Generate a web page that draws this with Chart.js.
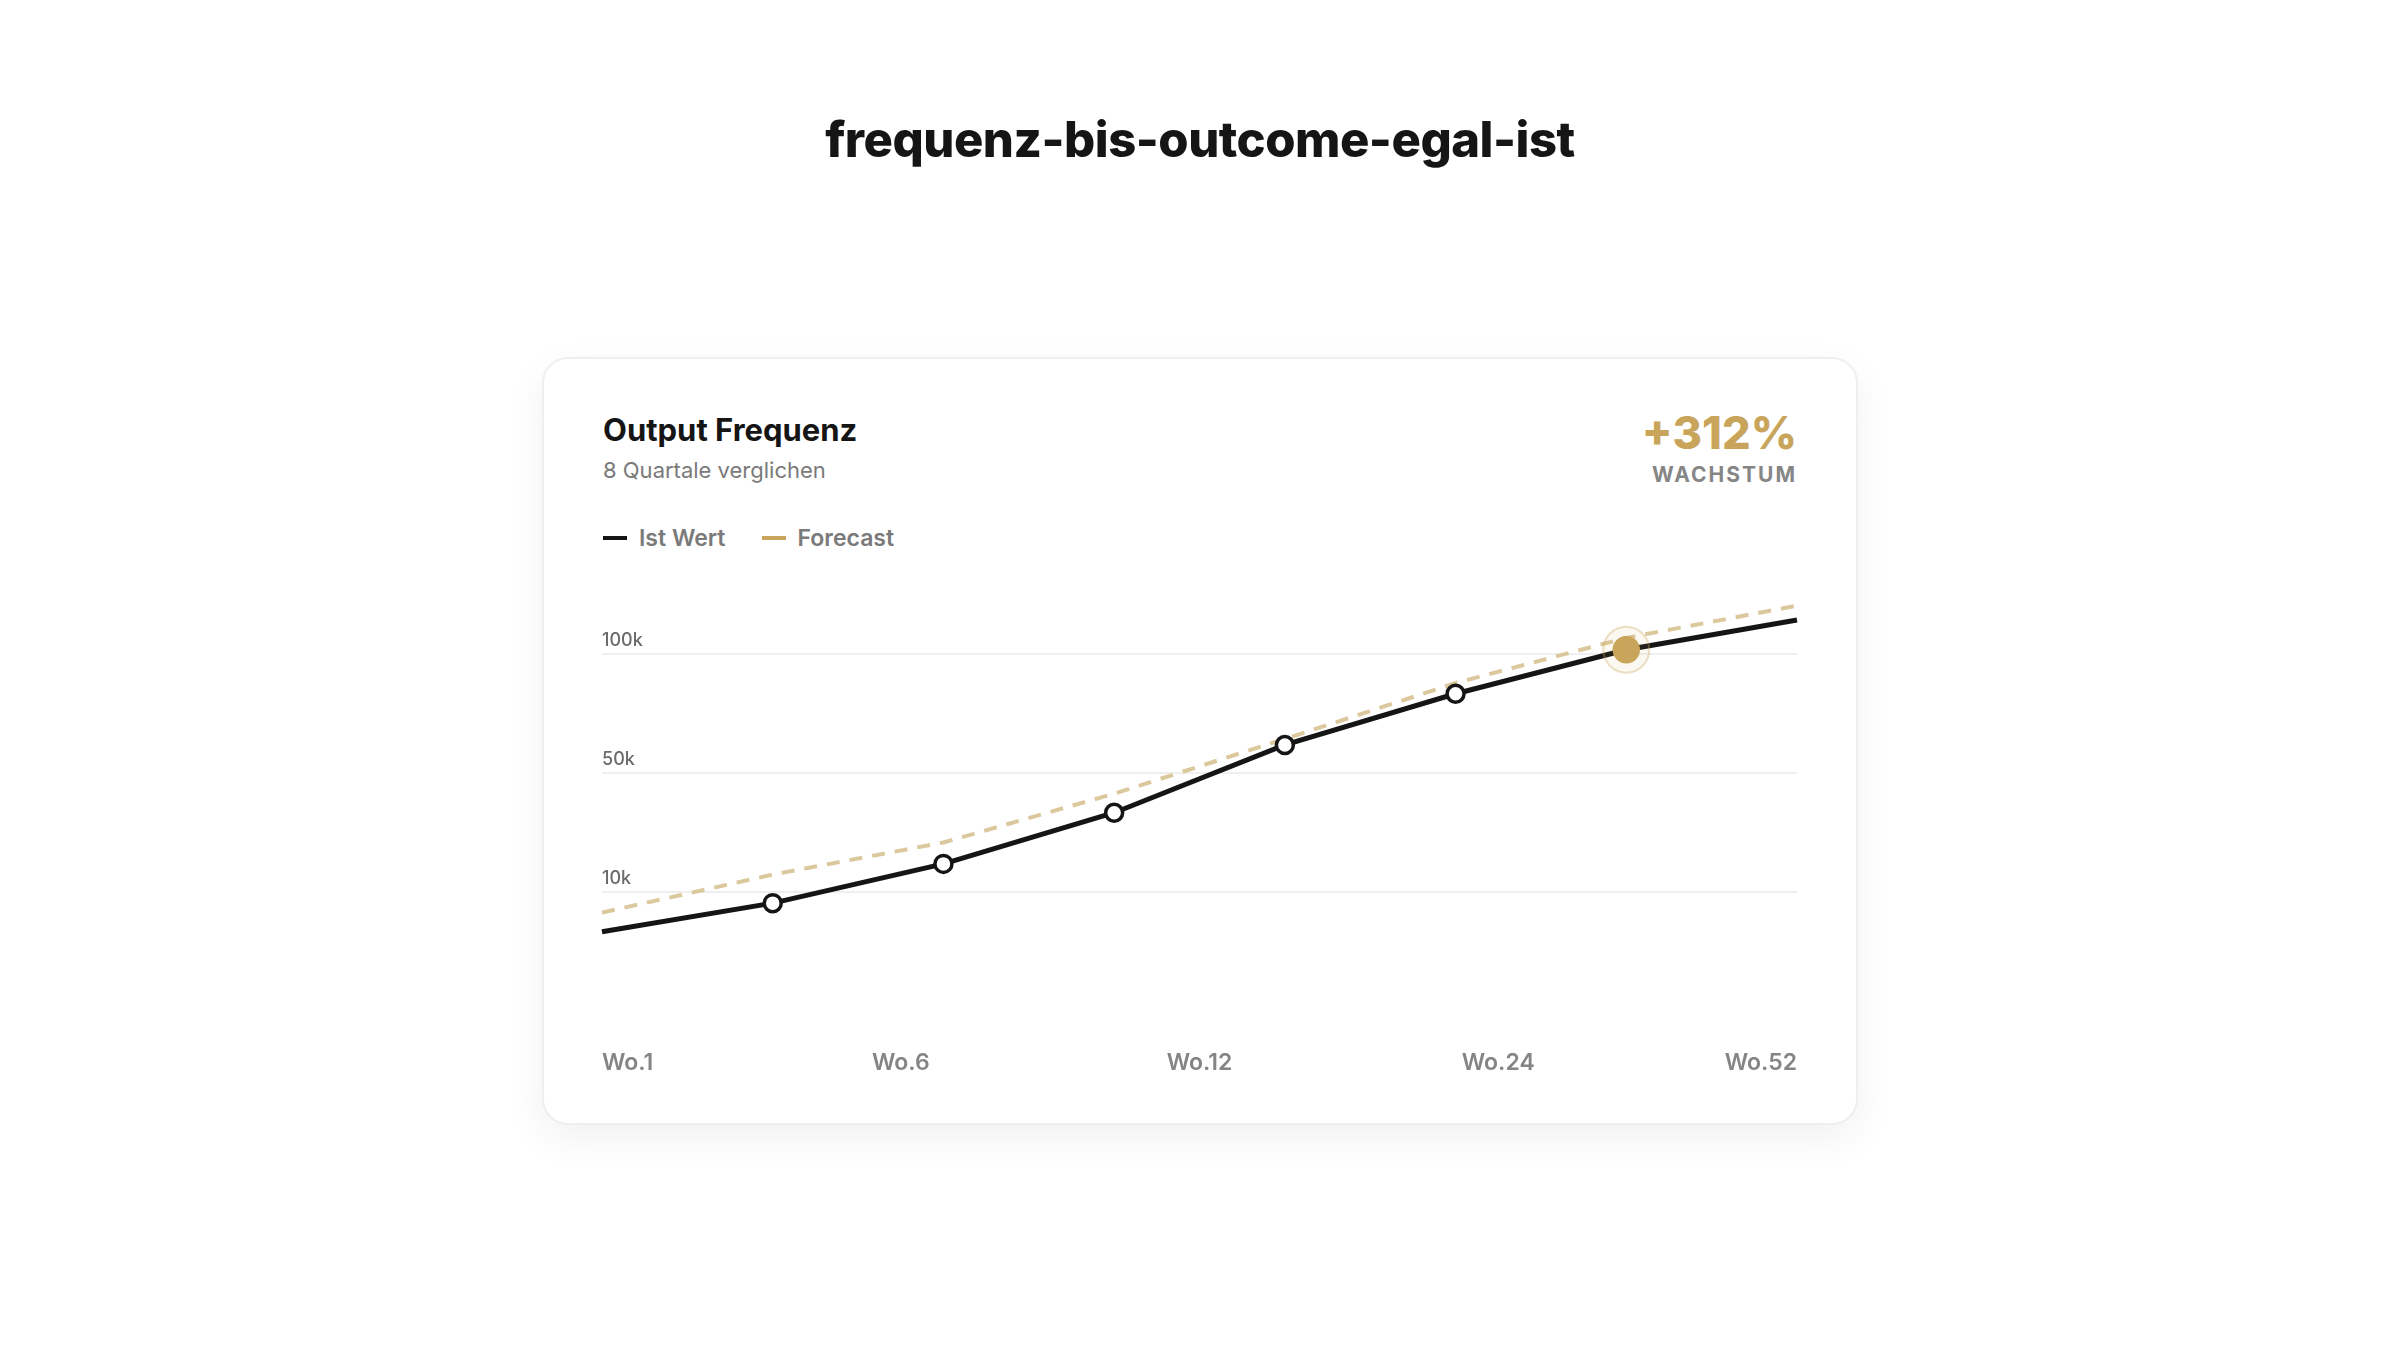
<!DOCTYPE html>
<html>
<head>
<meta charset="utf-8">
<script src="https://cdn.jsdelivr.net/npm/chart.js@4/dist/chart.umd.min.js"></script>
<style>
    body { margin: 0; width: 2400px; height: 1350px; background: #fff; font-family: Inter, "Noto Sans", sans-serif; position: relative; }
    h1 { position: absolute; top: 110px; left: 0; width: 2400px; text-align: center; margin: 0; font-size: 49px; font-weight: 800; color: #151515; letter-spacing: -0.5px; }
    .card { position: absolute; left: 542px; top: 357px; width: 1316px; height: 768px; box-sizing: border-box; border: 2px solid #efefef; border-radius: 26px; box-shadow: 0 14px 40px rgba(0,0,0,0.06); background: #fff; }
    .ctitle { position: absolute; left: 59px; top: 52px; font-size: 31px; font-weight: 700; color: #151515; }
    .csub { position: absolute; left: 59px; top: 98px; font-size: 22px; color: #7a7a7a; }
    .big { position: absolute; right: 59px; top: 46px; font-size: 45px; font-weight: 800; color: #c8a55b; }
    .lbl { position: absolute; right: 59px; top: 103px; font-size: 21px; font-weight: 700; color: #868686; letter-spacing: 2px; }
    .legend { position: absolute; left: 59px; top: 165px; font-size: 23px; font-weight: 600; color: #7a7a7a; display: flex; gap: 36px; }
    .legend span { display: flex; align-items: center; }
    .legend i { display: inline-block; width: 24px; height: 4px; margin-right: 12px; }
    #wrap { position: absolute; left: 28px; top: 236px; width: 1255px; height: 512px; }
</style>
</head>
<body>
<h1>frequenz-bis-outcome-egal-ist</h1>
<div class="card">
    <div class="ctitle">Output Frequenz</div>
    <div class="csub">8 Quartale verglichen</div>
    <div class="big">+312%</div>
    <div class="lbl">WACHSTUM</div>
    <div class="legend"><span><i style="background:#151515"></i>Ist Wert</span><span><i style="background:#c8a55b"></i>Forecast</span></div>
    <div id="wrap"><canvas id="chartFreq"></canvas></div>
</div>
<script>
// Data (y in grid units: 1 = 10k, 2 = 50k, 3 = 100k)
const points = [0, 1, 2, 3, 4, 5, 6, 7];
const istWert = [0.67, 0.91, 1.24, 1.67, 2.24, 2.67, 3.04, 3.29];
const forecast = [0.83, 1.15, 1.42, 1.83, 2.29, 2.76, 3.14, 3.41];
const xTickPos = [0, 1.75, 3.5, 5.25, 7];
const xTickLabels = ["Wo.1", "Wo.6", "Wo.12", "Wo.24", "Wo.52"];
const yTickPos = [1, 2, 3];
const yTickLabels = ["10k", "50k", "100k"];
const highlightIndex = 6;

const gold = "#c8a55b";

// y labels sit above the grid lines, halo around the highlight point
const extras = {
    id: "extras",
    afterDatasetsDraw(chart) {
        const { ctx, chartArea, scales } = chart;
        ctx.save();
        ctx.font = "500 18px Inter";
        ctx.fillStyle = "#6a6a6a";
        ctx.textAlign = "left";
        ctx.textBaseline = "bottom";
        yTickPos.forEach((v, i) => {
            ctx.fillText(yTickLabels[i], chartArea.left, scales.y.getPixelForValue(v) - 5);
        });
        const pt = chart.getDatasetMeta(0).data[highlightIndex];
        ctx.beginPath();
        ctx.arc(pt.x, pt.y, 23, 0, Math.PI * 2);
        ctx.fillStyle = "rgba(200,165,91,0.08)";
        ctx.fill();
        ctx.lineWidth = 2;
        ctx.strokeStyle = "rgba(200,165,91,0.35)";
        ctx.stroke();
        ctx.restore();
    },
};

const radii = points.map((p, i) => (i === 0 || i === points.length - 1 ? 0 : i === highlightIndex ? 12 : 8.5));

new Chart(document.getElementById("chartFreq"), {
    type: "line",
    data: {
        datasets: [
            {
                label: "Ist Wert",
                data: points.map((x, i) => ({ x, y: istWert[i] })),
                borderColor: "#151515",
                borderWidth: 5,
                pointRadius: radii,
                pointBackgroundColor: points.map((p, i) => (i === highlightIndex ? gold : "#fff")),
                pointBorderColor: points.map((p, i) => (i === highlightIndex ? gold : "#151515")),
                pointBorderWidth: 3.5,
                tension: 0,
                order: 1,
            },
            {
                label: "Forecast",
                data: points.map((x, i) => ({ x, y: forecast[i] })),
                borderColor: "#dcc89d",
                borderWidth: 4,
                borderDash: [13, 10],
                pointRadius: 0,
                tension: 0,
                order: 2,
            },
        ],
    },
    options: {
        responsive: true,
        maintainAspectRatio: false,
        animation: false,
        layout: { padding: 0 },
        clip: false,
        plugins: { legend: { display: false }, tooltip: { enabled: false } },
        scales: {
            x: {
                type: "linear",
                min: 0,
                max: 7,
                afterBuildTicks: (axis) => { axis.ticks = xTickPos.map((v) => ({ value: v })); },
                ticks: {
                    align: "inner",
                    padding: 30,
                    color: "#858585",
                    font: { family: "Inter", size: 23, weight: "600" },
                    callback: (v) => xTickLabels[xTickPos.indexOf(v)],
                },
                grid: { display: false },
                border: { display: false },
            },
            y: {
                min: 0,
                max: 3.5,
                afterBuildTicks: (axis) => { axis.ticks = yTickPos.map((v) => ({ value: v })); },
                ticks: { display: false },
                grid: { color: "#efefef", lineWidth: 2, drawTicks: false },
                border: { display: false },
            },
        },
    },
    plugins: [extras],
});
</script>
</body>
</html>
